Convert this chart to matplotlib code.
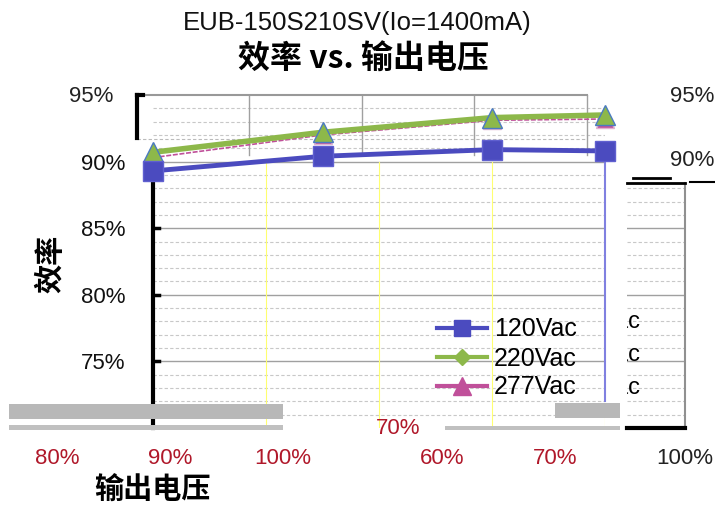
import matplotlib
matplotlib.use('Agg')
import matplotlib.pyplot as plt
from matplotlib.lines import Line2D
from matplotlib.patches import Rectangle

plt.rcParams['font.family'] = ['Liberation Sans', 'Noto Sans CJK SC', 'DejaVu Sans']

# data (output voltage %, efficiency %)
vout = [60, 75, 90, 100]
eff_120 = [89.3, 90.4, 90.9, 90.8]
eff_220 = [90.7, 92.2, 93.3, 93.5]
eff_277 = [90.3, 92.0, 93.1, 93.2]
series_names = ['120Vac', '220Vac', '277Vac']
y_ticks = [75, 80, 85, 90]
bottom_labels = ['80%', '90%', '100%', '60%', '70%', '100%']

W, H = 715, 514
fig = plt.figure(figsize=(W / 100, H / 100), dpi=100)


def fx(px):
    return px / W


def fy(py):
    return 1 - py / H


blue = '#4b4bbf'
green = '#8db84a'
pink = '#c0509a'
red = '#b0182a'

ax = fig.add_axes([fx(153), fy(428), fx(605) - fx(153), fy(95) - fy(428)])
ax.set_xlim(60, 100)
ax.set_ylim(70, 95)
for s in ax.spines.values():
    s.set_visible(False)

# grid
for v in range(71, 95):
    if v % 5:
        ax.axhline(v, color='#c8c8c8', lw=0.8, ls=(0, (3, 2)), zorder=0)
for v in range(75, 95, 5):
    ax.axhline(v, color='#a0a0a0', lw=1, zorder=0)
for v in [70, 80, 90, 100]:
    ax.axvline(v, ymin=0, ymax=0.8, color='#ffff70', lw=0.8, zorder=0)
for v in [68.5, 78.5, 88.4, 98.4]:
    ax.axvline(v, ymin=0.82, ymax=1, color='#a0a0a0', lw=1, zorder=0)
ax.plot([58.6, 98.4], [95, 95], color='#999999', lw=1.5, clip_on=False, zorder=1)
ax.plot([58.6, 98.4], [91.7, 91.7], color='#bbbbbb', lw=0.8, ls=(0, (3, 2)), clip_on=False, zorder=0)

# broken axis lines
ax.plot([60, 60], [70, 89.6], color='black', lw=3, clip_on=False, zorder=2)
ax.plot([58.6, 58.6], [91.8, 95], color='black', lw=3, clip_on=False, zorder=2)
ax.plot([58.6, 59.1], [95, 95], color='black', lw=3, clip_on=False, zorder=2)
ax.plot([100, 100], [72, 90.5], color='#8080e0', lw=1.5, clip_on=False, zorder=2)
for v in y_ticks:
    ax.plot([60, 60.5], [v, v], color='black', lw=2.5, zorder=2)

ax.plot(vout, eff_277, color=pink, lw=1.2, ls=(0, (3, 1)), marker='^', ms=13,
        mfc=pink, mec='#e0b0d0', clip_on=False, zorder=3)
ax.plot(vout, eff_220, color=green, lw=4, marker='^', ms=14,
        mfc=green, mec='#4a7ac0', clip_on=False, zorder=4)
ax.plot(vout, eff_120, color=blue, lw=3.5, marker='s', ms=15,
        mfc=blue, mec='#6060d0', clip_on=False, zorder=5)

ax.set_xticks([])
ax.set_yticks(y_ticks)
ax.set_yticklabels([f'{v}%' for v in y_ticks], fontsize=16, color='#111111')
ax.tick_params(axis='y', length=0, pad=20)

handles = [
    Line2D([], [], color=blue, lw=3, marker='s', ms=12),
    Line2D([], [], color=green, lw=3, marker='D', ms=8),
    Line2D([], [], color=pink, lw=3, marker='^', ms=13),
]
fig.legend(handles, series_names, loc='upper left', bbox_to_anchor=(fx(424), fy(305)),
           frameon=False, fontsize=18, handlelength=2.0, handletextpad=0.3,
           labelspacing=0.2, borderpad=0)

# titles
fig.text(fx(357), fy(23), 'EUB-150S210SV(Io=1400mA)', ha='center', va='center',
         fontsize=18.5, color='#111111')
fig.text(fx(363), fy(60), '效率 vs. 输出电压', ha='center', va='center', fontsize=23,
         fontweight='bold', family=['Noto Sans CJK SC', 'DejaVu Sans'])
fig.text(fx(50), fy(264), '效率', ha='center', va='center', rotation=90, fontsize=21,
         fontweight='bold', family=['Noto Sans CJK SC', 'DejaVu Sans'])
fig.text(fx(152), fy(490), '输出电压', ha='center', va='center', fontsize=21,
         fontweight='bold', family=['Noto Sans CJK SC', 'DejaVu Sans'])

fig.text(fx(113), fy(97), '95%', ha='right', va='center', fontsize=16, color='#222222')
fig.text(fx(398), fy(428), '70%', ha='center', va='center', fontsize=16, color=red)

# stray bottom labels
label_x = [57, 170, 283, 442, 555, 685]
for i, (lx, lab) in enumerate(zip(label_x, bottom_labels)):
    fig.text(fx(lx), fy(459), lab, ha='center', va='center', fontsize=16,
             color='#222222' if i == 5 else red)

# glitch blocks
fig.patches.extend([
    Rectangle((fx(9), fy(419)), fx(283) - fx(9), fy(404) - fy(419), transform=fig.transFigure,
              facecolor='#b8b8b8', edgecolor='none', zorder=6),
    Rectangle((fx(9), fy(430)), fx(283) - fx(9), fy(425) - fy(430), transform=fig.transFigure,
              facecolor='#c0c0c0', edgecolor='none', zorder=6),
    Rectangle((fx(555), fy(418)), fx(620) - fx(555), fy(403) - fy(418), transform=fig.transFigure,
              facecolor='#b8b8b8', edgecolor='none', zorder=6),
    Rectangle((fx(445), fy(430)), fx(620) - fx(445), fy(426) - fy(430), transform=fig.transFigure,
              facecolor='#c0c0c0', edgecolor='none', zorder=6),
])

# right-hand fragment
ax2 = fig.add_axes([fx(627), fy(428), fx(685) - fx(627), fy(183) - fy(428)])
ax2.set_xlim(0, 1)
ax2.set_ylim(70, 70 + (428 - 183) / 13.32)
for s in ['top', 'left']:
    ax2.spines[s].set_visible(False)
ax2.spines['right'].set_color('#909090')
ax2.spines['right'].set_linewidth(1.5)
ax2.spines['bottom'].set_color('black')
ax2.spines['bottom'].set_linewidth(3)
for v in range(71, 89):
    if v % 5:
        ax2.axhline(v, color='#c8c8c8', lw=0.8, ls=(0, (3, 2)), zorder=0)
for v in [75, 80, 85]:
    ax2.axhline(v, color='#a0a0a0', lw=1, zorder=0)
ax2.set_xticks([])
ax2.set_yticks([])
for py in [322, 355, 388]:
    yv = 70 + (428 - py) / 13.32
    ax2.text(0.24, yv, 'Vac', ha='right', va='center', fontsize=17, clip_on=True)
fig.lines.extend([
    Line2D([fx(627), fx(685)], [fy(183), fy(183)], transform=fig.transFigure, color='black', lw=2),
    Line2D([fx(633), fx(670)], [fy(178), fy(178)], transform=fig.transFigure, color='black', lw=2),
    Line2D([fx(690), fx(715)], [fy(182), fy(182)], transform=fig.transFigure, color='black', lw=1.5),
])
fig.text(fx(714), fy(97), '95%', ha='right', va='center', fontsize=16, color='#222222')
fig.text(fx(714), fy(160), '90%', ha='right', va='center', fontsize=16, color='#222222')

fig.savefig('out.png', dpi=100)
